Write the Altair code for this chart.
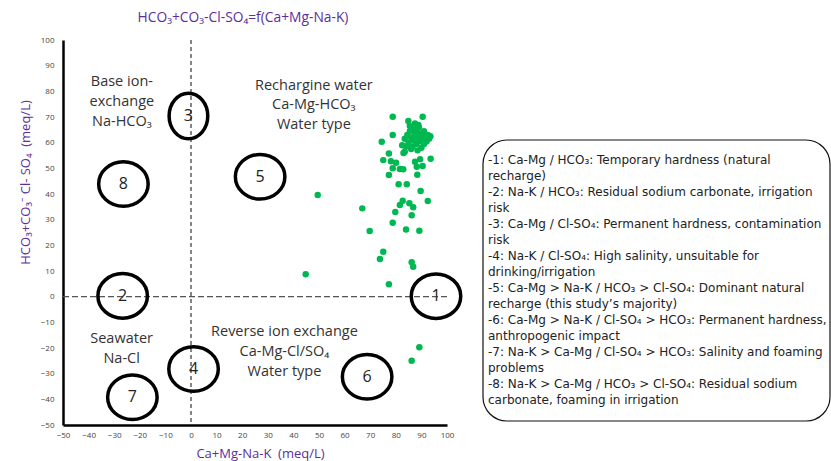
import altair as alt
import pandas as pd

# ---- Sample data: cation difference (Ca+Mg-Na-K) vs anion difference (HCO3+CO3-Cl-SO4), meq/L
cation_diff = [
    78.8, 90.5, 84.9, 88.8, 78.8, 74.5, 77.3, 75.1, 78.1, 80.1,
    83.5, 87.5, 89.5, 93.6, 78.8, 81.6, 82.9, 88.2, 90.5, 77.3,
    88.4, 81.1, 84.3, 89.7, 82.7, 92.5, 81.6, 85.3, 86.8, 79.8,
    86.2, 78.8, 84.0, 89.2, 69.8, 75.1, 73.8, 86.2, 86.8, 77.3,
    49.5, 66.9, 44.8, 89.2, 86.2,
    83.5, 84.5, 85.0, 85.5, 86.0, 86.5, 87.0, 87.0, 87.5, 88.0,
    88.0, 88.5, 89.0, 89.0, 89.5, 90.0, 90.0, 90.5, 91.0, 91.0,
    91.5, 92.0, 92.5, 93.0, 93.5, 86.0, 84.0, 88.5, 85.5, 87.5,
    83.0, 82.5,
]
anion_diff = [
    70.1, 70.1, 68.4, 66.9, 63.0, 60.4, 55.8, 53.2, 52.8, 52.2,
    56.5, 52.6, 53.5, 53.7, 50.0, 49.7, 49.6, 50.6, 50.9, 47.4,
    47.5, 43.8, 43.8, 41.2, 37.4, 37.3, 35.7, 36.4, 34.8, 33.0,
    31.7, 28.8, 26.2, 25.7, 25.6, 17.5, 14.7, 13.4, 11.7, 4.8,
    39.6, 34.4, 8.7, -19.7, -25.0,
    61.5, 63.0, 60.0, 64.5, 62.0, 58.5, 65.5, 61.0, 63.5, 59.5,
    62.5, 64.0, 60.5, 66.0, 62.0, 58.0, 63.5, 61.0, 64.5, 59.5,
    62.5, 60.5, 63.0, 61.5, 62.5, 57.5, 58.5, 57.0, 66.5, 67.5,
    56.0, 59.0,
]

# ---- Numbered water-type zones
zone_ids = ["1", "2", "3", "4", "5", "6", "7", "8"]
zone_x = [95.7, -26.7, -1.0, 1.0, 27.0, 68.8, -22.9, -26.4]
zone_y = [0.2, 0.3, 70.4, -28.2, 46.7, -31.2, -39.2, 43.9]

# ---- Region descriptions (one row per text line)
region_text = [
    "Base ion-", "exchange", "Na-HCO₃",
    "Rechargine water", "Ca-Mg-HCO₃", "Water type",
    "Seawater", "Na-Cl",
    "Reverse ion exchange", "Ca-Mg-Cl/SO₄", "Water type",
]
region_x = [-27.0, -27.0, -27.0, 48.0, 48.0, 48.0, -27.1, -27.1, 36.5, 36.5, 36.5]
region_y = [83.6, 75.8, 68.0, 82.0, 74.5, 66.9, -16.5, -24.3, -13.7, -21.5, -29.2]

# ---- Key to the zones
key_lines = [
    "-1: Ca-Mg / HCO₃: Temporary hardness (natural",
    "recharge)",
    "-2: Na-K / HCO₃: Residual sodium carbonate, irrigation",
    "risk",
    "-3: Ca-Mg / Cl-SO₄: Permanent hardness, contamination",
    "risk",
    "-4: Na-K / Cl-SO₄: High salinity, unsuitable for",
    "drinking/irrigation",
    "-5: Ca-Mg > Na-K / HCO₃ > Cl-SO₄: Dominant natural",
    "recharge (this study’s majority)",
    "-6: Ca-Mg > Na-K / Cl-SO₄ > HCO₃: Permanent hardness,",
    "anthropogenic impact",
    "-7: Na-K > Ca-Mg / Cl-SO₄ > HCO₃: Salinity and foaming",
    "problems",
    "-8: Na-K > Ca-Mg / HCO₃ > Cl-SO₄: Residual sodium",
    "carbonate, foaming in irrigation",
]

ticks = list(range(-50, 101, 10))
PURPLE = "#5A2E9C"
FONT = "Open Sans, Noto Sans, sans-serif"
KEY_FONT = "DejaVu Sans, Noto Sans, sans-serif"
NBSP = "\u00a0"

samples = pd.DataFrame({"cat": cation_diff, "an": anion_diff})
zones = pd.DataFrame({"zone": zone_ids, "cat": zone_x, "an": zone_y})
regions = pd.DataFrame({"txt": region_text, "cat": region_x, "an": region_y})
key = pd.DataFrame({"line": key_lines, "row": list(range(len(key_lines)))})

xscale = alt.Scale(domain=[-50, 100], nice=False, zero=False)
yscale = alt.Scale(domain=[-50, 100], nice=False, zero=False)

x_axis = alt.Axis(
    values=ticks, title="Ca+Mg-Na-K" + NBSP * 2 + "(meq/L)", titleColor=PURPLE, titleFont=FONT,
    titleFontSize=13, titleFontWeight="normal", titleX=197, titleY=28,
    titleAlign="center", titleBaseline="middle",
    labelFont=FONT, labelFontSize=8, labelColor="#444", labelPadding=6,
    labelOverlap=False, labelFlush=False, labelBound=False,
    ticks=False, grid=False, domainColor="black", domainWidth=2.5,
)
y_axis = alt.Axis(
    values=ticks, title="HCO₃+CO₃⁻ Cl- SO₄" + NBSP * 2 + "(meq/L)", titleColor=PURPLE, titleFont=FONT,
    titleFontSize=13, titleFontWeight="normal", titleX=-38, titleY=142,
    titleAngle=270, titleAlign="center", titleBaseline="middle",
    labelFont=FONT, labelFontSize=8, labelColor="#444", labelPadding=9,
    labelOverlap=False, labelFlush=False, labelBound=False,
    ticks=False, grid=False, domainColor="black", domainWidth=2.5,
)

# Axes are attached to the first layer so that their settings win when layers merge
hline = alt.Chart(pd.DataFrame({"an": [0]})).mark_rule(
    color="#555", strokeDash=[6, 3], strokeWidth=1.3
).encode(y=alt.Y("an:Q", scale=yscale, axis=y_axis))

vline = alt.Chart(pd.DataFrame({"cat": [0]})).mark_rule(
    color="#222", strokeDash=[4, 3], strokeWidth=1.1
).encode(x=alt.X("cat:Q", scale=xscale, axis=x_axis))

points = alt.Chart(samples).mark_circle(size=42, color="#00B851", opacity=1).encode(
    x=alt.X("cat:Q", scale=xscale, axis=x_axis),
    y=alt.Y("an:Q", scale=yscale, axis=y_axis),
)

WIDE = "M-1,0A1,0.9,0,1,1,1,0A1,0.9,0,1,1,-1,0Z"
TALL = "M-0.85,0A0.85,1,0,1,1,0.85,0A0.85,1,0,1,1,-0.85,0Z"

rings = alt.Chart(zones).mark_point(filled=False, color="black", strokeWidth=3.5, opacity=1).encode(
    x=alt.X("cat:Q", scale=xscale, axis=x_axis),
    y=alt.Y("an:Q", scale=yscale, axis=y_axis),
    shape=alt.condition("datum.zone == '3'", alt.value(TALL), alt.value(WIDE)),
    size=alt.condition("datum.zone == '3'", alt.value(2070), alt.value(2450)),
)

ring_labels = alt.Chart(zones).mark_text(
    font=FONT, fontSize=16, color="#222", baseline="middle", align="center"
).encode(
    x=alt.X("cat:Q", scale=xscale, axis=x_axis),
    y=alt.Y("an:Q", scale=yscale, axis=y_axis),
    text="zone:N",
)

region_labels = alt.Chart(regions).mark_text(
    font=FONT, fontSize=14.5, color="#333", baseline="middle", align="center"
).encode(
    x=alt.X("cat:Q", scale=xscale, axis=x_axis),
    y=alt.Y("an:Q", scale=yscale, axis=y_axis),
    text="txt:N",
)

title = alt.Chart(pd.DataFrame({"t": ["HCO₃+CO₃-Cl-SO₄=f(Ca+Mg-Na-K)"]})).mark_text(
    font=FONT, fontSize=13.8, color=PURPLE, align="center", baseline="middle"
).encode(x=alt.value(180), y=alt.value(-22), text="t:N")

key_box = alt.Chart(pd.DataFrame({"k": [0]})).mark_rect(
    fill="white", fillOpacity=0, stroke="#111", strokeWidth=1.2, cornerRadius=24
).encode(x=alt.value(420), x2=alt.value(767), y=alt.value(100), y2=alt.value(381))

key_text = alt.Chart(key).mark_text(
    font=KEY_FONT, fontSize=12, color="#222", align="left", baseline="middle"
).encode(
    x=alt.value(425),
    y=alt.Y("row:Q", scale=alt.Scale(domain=[0, 15], range=[120, 360]), axis=None),
    text="line:N",
)

plot = alt.layer(hline, vline, rings, ring_labels, region_labels, points, title)
chart = alt.layer(plot, key_box, key_text).resolve_scale(y="independent").properties(
    width=384, height=385,
    autosize=alt.AutoSizeParams(type="none"),
    padding={"left": 63, "top": 40, "right": 384, "bottom": 36},
).configure_view(stroke=None).configure_axis(
    labelOverlap=False, labelFlush=False, labelBound=False
)

chart.save("out.html", embed_options={"renderer": "svg", "actions": False})
